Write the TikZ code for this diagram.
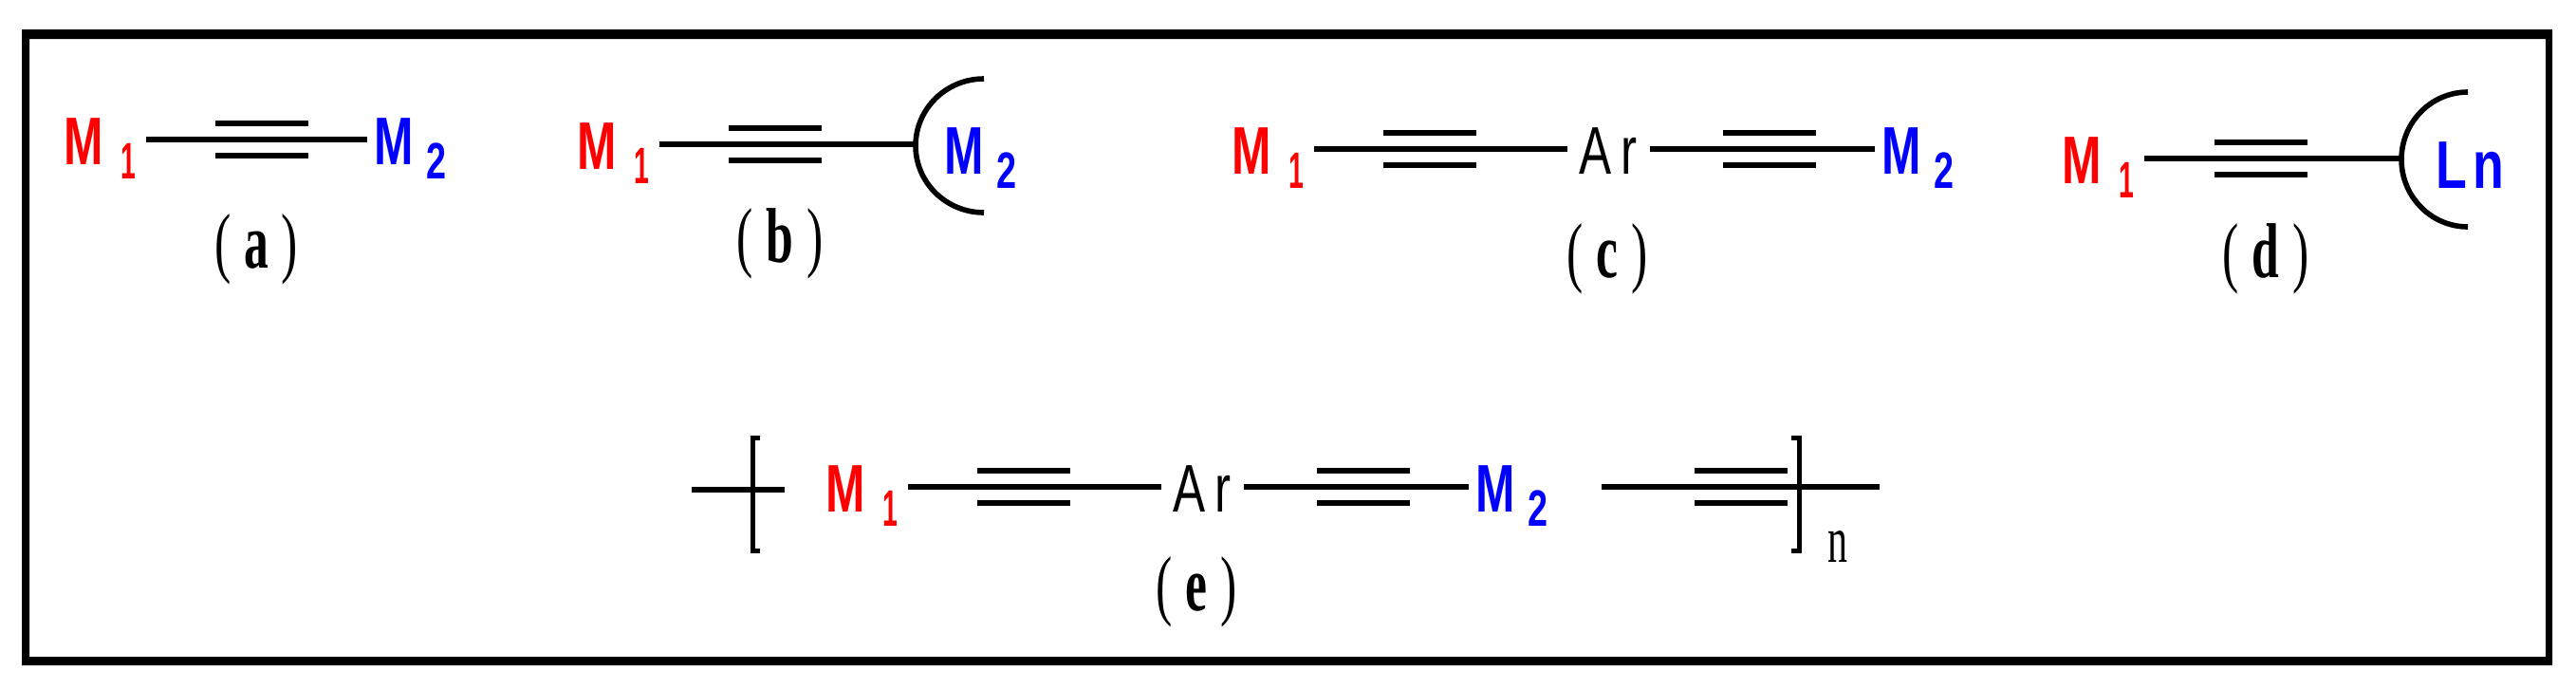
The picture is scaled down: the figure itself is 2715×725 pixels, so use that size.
\documentclass[tikz,border=0pt]{standalone}
\usepackage{fontspec}
\setmainfont{Liberation Serif}
\newfontfamily\labelfont{Liberation Sans}
\newcommand{\subfont}{\fontsize{27}{27}\selectfont}
\newcommand{\firstmetal}{M\hspace{13.5pt}\raisebox{-7.5pt}{\scalebox{.75}[1]{\subfont 1}}\kern7.5pt}
\newcommand{\secondmetal}{\hspace{5pt}M\hspace{10pt}\raisebox{-7.5pt}{\subfont 2}}
\newcommand{\arylname}{A\hspace{6.5pt}r}
\newcommand{\parttag}[1]{(\hspace{11pt}\textbf{#1}\hspace{11pt})}
\begin{document}
\begin{tikzpicture}[x=.5pt,y=-.5pt,
		bond/.style = {line width=3pt},
		cup/.style = {line width=2.8pt},
		hook/.style = {line width=2.5pt},
		metal/.style = {inner sep=0pt, xscale=.7, transform shape, text height=35pt, text depth=9pt,
			font=\labelfont\bfseries\fontsize{35.5}{35.5}\selectfont},
		aryl/.style = {inner sep=0pt, xscale=.72, transform shape, text height=35pt, text depth=9pt, minimum width=60pt,
			font=\labelfont\fontsize{35.5}{35.5}\selectfont},
		sublabel/.style = {inner sep=0pt, anchor=base, xscale=.63, transform shape,
			font=\fontsize{41}{41}\selectfont}]
	\useasboundingbox (0,0) rectangle (2715,725);
	\fill[even odd rule] (23,31) rectangle (2690,701) (31,41) rectangle (2683,692);

	\node[metal, red, anchor=east] (m1a) at (154,147) {\firstmetal};
	\node[metal, blue, anchor=west] (m2a) at (387,147) {\secondmetal};
	\coordinate (ta) at (276,147);
	\draw[bond] (m1a) to (m2a);
	\node[sublabel] (capa) at (270,282) {\parttag{a}};

	\node[metal, red, anchor=east] (m1b) at (695,152) {\firstmetal};
	\coordinate (cupb) at (963,152);
	\coordinate (topb) at (1037,83);
	\coordinate (tb) at (817,152);
	\draw[bond] (m1b) to (cupb);
	\draw[cup] (topb) arc[start angle=270, end angle=90, x radius=72, y radius=70.5];
	\node[metal, blue, anchor=west] (m2b) at (988,157) {\secondmetal};
	\node[sublabel] (capb) at (822,276) {\parttag{b}};

	\node[metal, red, anchor=east] (m1c) at (1385,157) {\firstmetal};
	\node[aryl] (arc) at (1695,157) {\arylname};
	\node[metal, blue, anchor=west] (m2c) at (1976,157) {\secondmetal};
	\coordinate (tc1) at (1507,157);
	\coordinate (tc2) at (1864.5,157);
	\draw[bond] (m1c) to (arc);
	\draw[bond] (arc) to (m2c);
	\node[sublabel] (capc) at (1694,292) {\parttag{c}};

	\node[metal, red, anchor=east] (m1d) at (2260,167) {\firstmetal};
	\coordinate (cupd) at (2531,167);
	\coordinate (topd) at (2601,97);
	\coordinate (td) at (2383,167);
	\draw[bond] (m1d) to (cupd);
	\draw[cup] (topd) arc[start angle=270, end angle=90, x radius=70, y radius=71];
	\node[metal, xscale=1.08, blue, anchor=west] (lnd) at (2567,172) {L\hspace{4.5pt}n};
	\node[sublabel] (capd) at (2388,292) {\parttag{d}};

	\coordinate (stub1) at (729,516);
	\coordinate (stub2) at (827,516);
	\coordinate (lbt) at (793,461.5);
	\coordinate (lbb) at (793,580.5);
	\node[metal, red, anchor=east] (m1e) at (957,513) {\firstmetal};
	\node[aryl] (are) at (1267,513) {\arylname};
	\node[metal, blue, anchor=west] (m2e) at (1548,513) {\secondmetal};
	\coordinate (end1) at (1688,513);
	\coordinate (end2) at (1981,513);
	\coordinate (rbt) at (1896,461.5);
	\coordinate (rbb) at (1896,580.5);
	\coordinate (te1) at (1079,513);
	\coordinate (te2) at (1437,513);
	\coordinate (te3) at (1834.5,513);
	\draw[bond] (stub1) to (stub2);
	\draw[bond] (m1e) to (are);
	\draw[bond] (are) to (m2e);
	\draw[bond] (end1) to (end2);
	\draw[hook] ([xshift=4pt]lbt) -- (lbt) -- (lbb) -- ([xshift=4pt]lbb);
	\draw[hook] ([xshift=-4pt]rbt) -- (rbt) -- (rbb) -- ([xshift=-4pt]rbb);
	\node[inner sep=0pt, anchor=base west, xscale=.6, transform shape, font=\fontsize{35}{35}\selectfont] (rep) at (1926,592) {n};
	\node[sublabel] (cape) at (1261,643) {\parttag{e}};

	\foreach \t in {ta,tb,tc1,tc2,td,te1,te2,te3} {
		\draw[bond] ([xshift=-24.5pt,yshift=8.6pt]\t) to ([xshift=24.5pt,yshift=8.6pt]\t);
		\draw[bond] ([xshift=-24.5pt,yshift=-8.6pt]\t) to ([xshift=24.5pt,yshift=-8.6pt]\t);
	}
\end{tikzpicture}
\end{document}
